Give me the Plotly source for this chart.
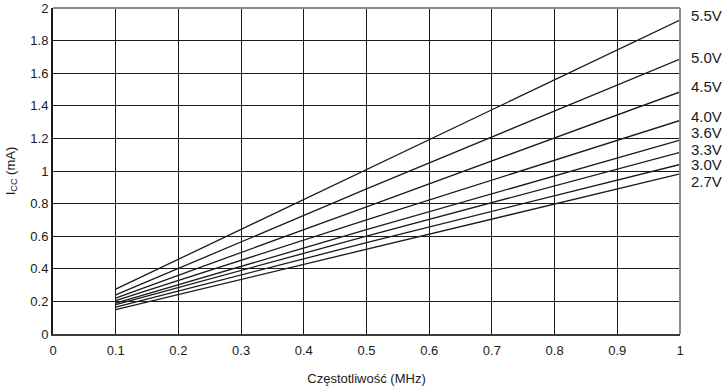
import plotly.graph_objects as go

freq = [0.1, 0.5, 1.0]
voltages = ["5.5V", "5.0V", "4.5V", "4.0V", "3.6V", "3.3V", "3.0V", "2.7V"]
icc_55 = [0.275, 1.01, 1.926]
icc_50 = [0.24, 0.89, 1.687]
icc_45 = [0.22, 0.78, 1.485]
icc_40 = [0.205, 0.70, 1.31]
icc_36 = [0.19, 0.64, 1.19]
icc_33 = [0.18, 0.60, 1.115]
icc_30 = [0.165, 0.56, 1.04]
icc_27 = [0.15, 0.52, 0.982]
series = [icc_55, icc_50, icc_45, icc_40, icc_36, icc_33, icc_30, icc_27]
label_y = [1.951, 1.699, 1.521, 1.337, 1.239, 1.135, 1.037, 0.933]

xticks = [0, 0.1, 0.2, 0.3, 0.4, 0.5, 0.6, 0.7, 0.8, 0.9, 1]
xtick_text = ["0", "0.1", "0.2", "0.3", "0.4", "0.5", "0.6", "0.7", "0.8", "0.9", "1"]
yticks = [0, 0.2, 0.4, 0.6, 0.8, 1.0, 1.2, 1.4, 1.6, 1.8, 2.0]
ytick_text = ["0", "0.2", "0.4", "0.6", "0.8", "1", "1.2", "1.4", "1.6", "1.8", "2"]

fig = go.Figure()
for name, vals in zip(voltages, series):
    fig.add_trace(go.Scatter(x=freq, y=vals, mode="lines", name=name,
                             line=dict(color="#1a1a1a", width=1.3), showlegend=False,
                             hoverinfo="skip"))

for name, ly in zip(voltages, label_y):
    fig.add_annotation(x=1.015, xref="paper", y=ly, yref="y", text=name,
                       showarrow=False, xanchor="left", yanchor="middle",
                       font=dict(size=15, color="#1a1a1a"))

# frame: top and right gray
fig.add_shape(type="line", xref="paper", yref="paper", x0=0, x1=1, y0=1, y1=1,
              line=dict(color="#8a8a8a", width=2))
fig.add_shape(type="line", xref="paper", yref="paper", x0=1, x1=1, y0=0, y1=1,
              line=dict(color="#8a8a8a", width=2))

font = "Liberation Sans, Arial, sans-serif"
fig.update_layout(
    width=728, height=388,
    margin=dict(l=53, r=48, t=8, b=54, autoexpand=False),
    paper_bgcolor="white", plot_bgcolor="white",
    font=dict(family=font, size=13, color="#1a1a1a"),
    xaxis=dict(range=[0, 1], tickvals=xticks, ticktext=xtick_text,
               showgrid=True, gridcolor="#1a1a1a", gridwidth=1,
               zeroline=False, showline=True, linecolor="#3a3a3a", linewidth=2,
               ticks="outside", ticklen=3, tickcolor="white", automargin=False,
               title=dict(text="Częstotliwość (MHz)", font=dict(size=13), standoff=17),
               tickfont=dict(size=13)),
    yaxis=dict(range=[0, 2], tickvals=yticks, ticktext=ytick_text,
               showgrid=True, gridcolor="#1a1a1a", gridwidth=1,
               zeroline=False, showline=True, linecolor="#1a1a1a", linewidth=2,
               ticks="", ticklen=0, automargin=False,
               title=dict(text="I<sub>CC</sub> (mA)", font=dict(size=13), standoff=12),
               tickfont=dict(size=13)),
)

fig.write_html("out.html", config={"displayModeBar": False},
               post_script="document.body.style.margin='0';document.body.style.overflow='hidden';")
